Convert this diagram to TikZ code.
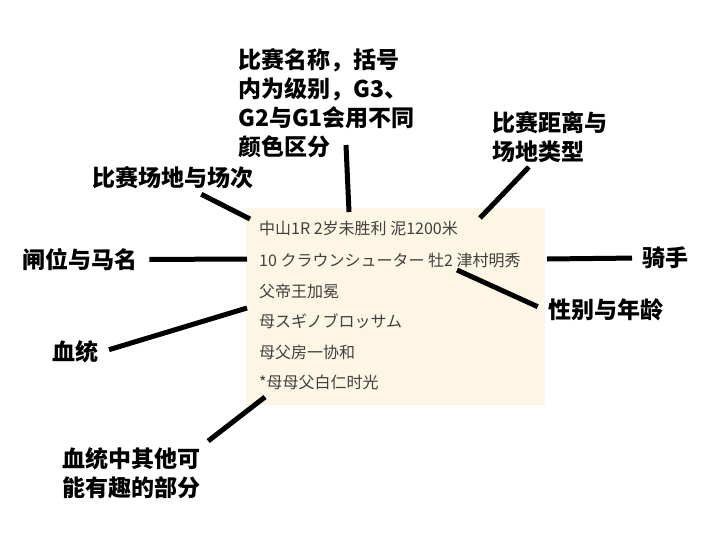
\documentclass[tikz,border=0pt]{standalone}
\usepackage{fontspec}
\setmainfont{Noto Sans CJK SC}
\usepackage{tikz}
\definecolor{cardfill}{HTML}{FDF6E4}
\definecolor{rowgray}{HTML}{404040}

\begin{document}
\begin{tikzpicture}[x=1pt,y=-1pt,
  lbl/.style={anchor=west,inner sep=3pt,align=left,font=\fontsize{23}{29}\selectfont\bfseries},
  row/.style={anchor=west,inner sep=0pt,text=rowgray,font=\fontsize{16}{20}\selectfont},
  lead/.style={line width=5pt}]
\useasboundingbox (0,0) rectangle (716,549);
\node[fill=cardfill,minimum width=299pt,minimum height=197pt,anchor=north west,inner sep=0pt] (card) at (246,208) {};
\node[row] (r1) at (259,228) {中山1R 2岁未胜利 泥1200米};
\node[row] (r2) at (259,260) {10 クラウンシューター 牡2 津村明秀};
\node[row] (r3) at (259,291) {父帝王加冕};
\node[row] (r4) at (259,321) {母スギノブロッサム};
\node[row] (r5) at (259,352) {母父房一协和};
\node[row] (r6) at (259,382) {*母母父白仁时光};
\node[lbl] (title) at (235,103.5) {比赛名称，括号\\内为级别，G3、\\G2与G1会用不同\\颜色区分};
\node[lbl] (race) at (89,178) {比赛场地与场次};
\node[lbl] (dist) at (489,137.5) {比赛距离与\\场地类型};
\node[lbl] (gate) at (19,259.5) {闸位与马名};
\node[lbl] (jockey) at (639,258) {骑手};
\node[lbl] (sex) at (545,310) {性别与年龄};
\node[lbl] (blood) at (49,352) {血统};
\node[lbl] (more) at (59,473.5) {血统中其他可\\能有趣的部分};
\coordinate (title-a) at (346,145);
\coordinate (title-end) at (349,212);
\coordinate (race-end) at (250,219);
\coordinate (dist-end) at (480,218);
\coordinate (gate-end) at (247,259);
\coordinate (jockey-end) at (547,259);
\coordinate (sex-end) at (457,270);
\coordinate (blood-end) at (247,308);
\coordinate (more-end) at (265,397);
\draw[lead] (title-a) -- (title-end);
\draw[lead,shorten <=4pt] (race.-30) -- (race-end);
\draw[lead,shorten <=1pt] (dist.235) -- (dist-end);
\draw[lead,shorten <=9pt] (gate.east) -- (gate-end);
\draw[lead,shorten <=7pt] (jockey.west) -- (jockey-end);
\draw[lead,shorten <=8pt] (sex.west) -- (sex-end);
\draw[lead,shorten <=8pt] (blood.east) -- (blood-end);
\draw[lead,shorten <=6pt] (more.north east) -- (more-end);
\end{tikzpicture}
\end{document}
